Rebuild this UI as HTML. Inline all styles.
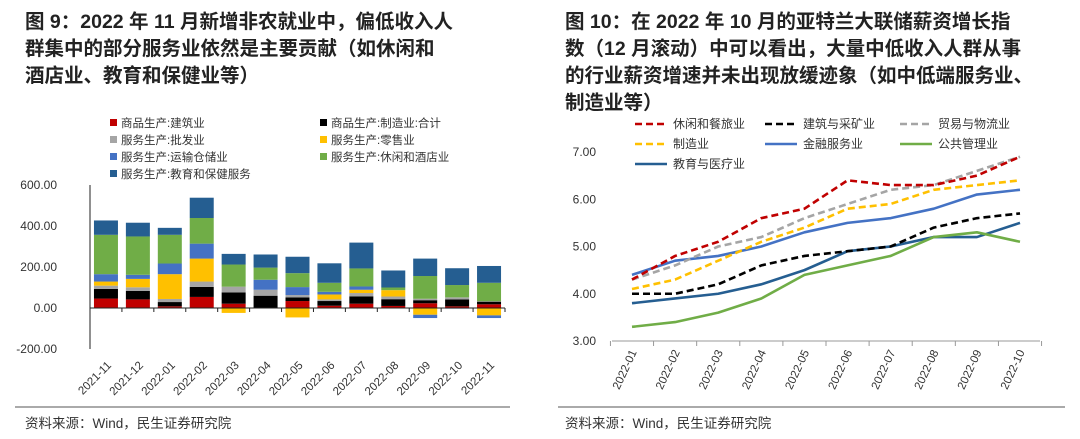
<!DOCTYPE html>
<html><head><meta charset="utf-8"><style>
body{margin:0;background:#fff;width:1080px;height:439px;overflow:hidden}
svg{display:block;font-family:"Liberation Sans","Noto Sans CJK SC",sans-serif}
</style></head><body>
<svg id="s" width="1080" height="439" xmlns="http://www.w3.org/2000/svg">
<g font-size="19.5" font-weight="bold" fill="#222">
<text x="25" y="28">图 9：2022 年 11 月新增非农就业中，偏低收入人</text>
<text x="25" y="55">群集中的部分服务业依然是主要贡献（如休闲和</text>
<text x="25" y="82">酒店业、教育和保健业等）</text>
</g>
<g font-size="19.5" font-weight="bold" fill="#222">
<text x="565" y="28">图 10：在 2022 年 10 月的亚特兰大联储薪资增长指</text>
<text x="565" y="55">数（12 月滚动）中可以看出，大量中低收入人群从事</text>
<text x="565" y="82">的行业薪资增速并未出现放缓迹象（如中低端服务业、</text>
<text x="565" y="109">制造业等）</text>
</g>
<line x1="15" y1="407" x2="510" y2="407" stroke="#555" stroke-width="1"/>
<line x1="558" y1="407" x2="1065" y2="407" stroke="#555" stroke-width="1"/>
<text x="25" y="428" font-size="13.5" fill="#333">资料来源：Wind，民生证券研究院</text>
<text x="565" y="428" font-size="13.5" fill="#333">资料来源：Wind，民生证券研究院</text>
<g id="left"></g>
<g id="right"></g>
</svg>
<script>
const barCats=["2021-11","2021-12","2022-01","2022-02","2022-03","2022-04","2022-05","2022-06","2022-07","2022-08","2022-09","2022-10","2022-11"];
const construction=[46,42,8,54,21,1,34,11,21,10,23,8,18];
const manufacturing=[47,41,21,49,55,59,18,23,36,33,15,34,13];
const wholesale=[16,18,15,26,28,29,11,8,16,13,7,10,2];
const retail=[20,41,121,112,-24,0,-46,24,16,31,-33,0,-36];
const transport=[36,20,52,73,0,49,39,13,16,0,-16,-3,-13];
const leisure=[192,187,140,125,108,59,68,44,88,13,111,60,90];
const education=[70,67,34,99,52,64,80,95,126,83,85,82,82];
const barTicks=[600,400,200,0,-200];
const seriesNames=["商品生产:建筑业","商品生产:制造业:合计","服务务生产:批发业","服务生产:零售业","服务生产:运输仓储业","服务生产:休闲和酒店业","服务生产:教育和保健服务"];

const lineCats=["2022-01","2022-02","2022-03","2022-04","2022-05","2022-06","2022-07","2022-08","2022-09","2022-10"];
const leisureWage=[4.3,4.8,5.1,5.6,5.8,6.4,6.3,6.3,6.5,6.9];
const constructionWage=[4.0,4.0,4.2,4.6,4.8,4.9,5.0,5.4,5.6,5.7];
const tradeWage=[4.3,4.6,5.0,5.2,5.6,5.9,6.2,6.3,6.6,6.9];
const manufWage=[4.1,4.3,4.7,5.1,5.4,5.8,5.9,6.2,6.3,6.4];
const financeWage=[4.4,4.7,4.8,5.0,5.3,5.5,5.6,5.8,6.1,6.2];
const publicWage=[3.3,3.4,3.6,3.9,4.4,4.6,4.8,5.2,5.3,5.1];
const eduWage=[3.8,3.9,4.0,4.2,4.5,4.9,5.0,5.2,5.2,5.5];
const lineTicks=[7,6,5,4,3];

const NS="http://www.w3.org/2000/svg";
function mk(p,tag,a,txt){const e=document.createElementNS(NS,tag);for(const k in a)e.setAttribute(k,a[k]);if(txt!==undefined)e.textContent=txt;p.appendChild(e);return e;}

// LEFT
const L=document.getElementById('left');
const bx0=90,bx1=505,step=(bx1-bx0)/barCats.length;
const by=v=>308-v*(41/200);
const bxc=i=>bx0+step*(i+0.5);
const colors=["#c00000","#000000","#a5a5a5","#ffc000","#4472c4","#70ad47","#255e91"];
const names=["商品生产:建筑业","商品生产:制造业:合计","服务生产:批发业","服务生产:零售业","服务生产:运输仓储业","服务生产:休闲和酒店业","服务生产:教育和保健服务"];
const series=[construction,manufacturing,wholesale,retail,transport,leisure,education];
barTicks.forEach(t=>{
const e=mk(L,'text',{x:57,y:by(t)+4,'font-size':12,fill:'#333','text-anchor':'end'},t.toFixed(2));


});
const ya=mk(L,'line',{x1:bx0,y1:by(600),x2:bx0,y2:by(-200),stroke:'#222','stroke-width':1});


barCats.forEach((c,i)=>{
let pos=0,neg=0;
series.forEach((s,k)=>{
const v=s[i];if(!v)return;
let y0,y1;
if(v>0){y0=pos;y1=pos+v;pos=y1;}else{y0=neg;y1=neg+v;neg=y1;}
const r=mk(L,'rect',{x:bxc(i)-12,y:by(Math.max(y0,y1)),width:24,height:Math.abs(by(y1)-by(y0)),fill:colors[k]});


});
const lb=mk(L,'text',{x:bxc(i)+6,y:366,'font-size':11.5,fill:'#333','text-anchor':'end',transform:`rotate(-45 ${bxc(i)+6} 366)`},c);


});
const xa=mk(L,'line',{x1:bx0,y1:by(0),x2:bx1,y2:by(0),stroke:'#222','stroke-width':1});


for(let i=1;i<=barCats.length;i++){mk(L,'line',{x1:bx0+step*i,y1:by(0),x2:bx0+step*i,y2:by(0)+4,stroke:'#222'});}
const legPos=[[110,127],[320,127],[110,144],[320,144],[110,161],[320,161],[110,178]];
names.forEach((n,k)=>{
const g=mk(L,'g',{});


mk(g,'rect',{x:legPos[k][0],y:legPos[k][1]-8,width:7,height:7,fill:colors[k]});
mk(g,'text',{x:legPos[k][0]+11,y:legPos[k][1],'font-size':11.5,fill:'#333'},n);
});

// RIGHT
const R=document.getElementById('right');
const lx0=632,lstep=(1020-632)/(lineCats.length-1);
const lx=i=>lx0+lstep*i;
const ly=v=>341-(v-3)*47.25;
lineTicks.forEach(t=>{
const e=mk(R,'text',{x:596,y:ly(t)+4,'font-size':12,fill:'#333','text-anchor':'end'},t.toFixed(2));


});
const rx=mk(R,'line',{x1:612,y1:ly(3),x2:1040,y2:ly(3),stroke:'#999','stroke-width':1});


for(let i=0;i<=lineCats.length;i++){const x=612+lstep*i-0;mk(R,'line',{x1:lx(i)-lstep/2+0,y1:ly(3),x2:lx(i)-lstep/2,y2:ly(3)+5,stroke:'#999'});}
lineCats.forEach((c,i)=>{
const lb=mk(R,'text',{x:lx(i)+5,y:352,'font-size':11.5,fill:'#333','text-anchor':'end',transform:`rotate(-65 ${lx(i)+5} 352)`},c);


});
const lines=[
[leisureWage,"#c00000",true,"休闲和餐旅业",635,128],
[constructionWage,"#000000",true,"建筑与采矿业",765,128],
[tradeWage,"#a5a5a5",true,"贸易与物流业",900,128],
[manufWage,"#ffc000",true,"制造业",635,148],
[financeWage,"#4472c4",false,"金融服务业",765,148],
[publicWage,"#70ad47",false,"公共管理业",900,148],
[eduWage,"#255e91",false,"教育与医疗业",635,168]];
lines.slice().reverse().forEach(([d,c,dash])=>{
const p=mk(R,'polyline',{points:d.map((v,i)=>lx(i)+','+ly(v)).join(' '),fill:'none',stroke:c,'stroke-width':2.6,'stroke-dasharray':dash?'7,4':'none','stroke-linejoin':'round'});


});
lines.forEach(([d,c,dash,n,x,y])=>{
const g=mk(R,'g',{});


mk(g,'line',{x1:x,y1:y-4,x2:x+32,y2:y-4,stroke:c,'stroke-width':2.6,'stroke-dasharray':dash?'7,4':'none'});
mk(g,'text',{x:x+38,y:y,'font-size':12,fill:'#333'},n);
});
</script>
</body></html>
